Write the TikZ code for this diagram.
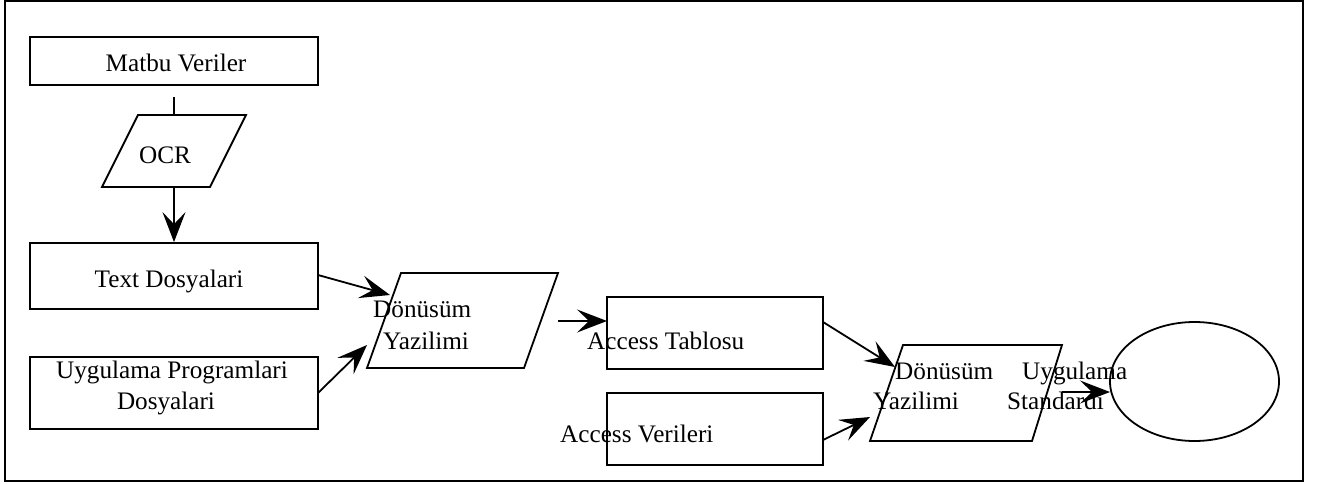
\documentclass[tikz,border=0pt]{standalone}
\usepackage{fontspec}
\setmainfont{Liberation Serif}
\usetikzlibrary{arrows.meta,shapes.geometric}
\begin{document}
\begin{tikzpicture}[x=1pt,y=-1pt,
  box/.style={draw, line width=1.8pt, inner sep=0pt},
  lbl/.style={font=\fontsize{25.2}{30}\selectfont, inner sep=0pt},
  shp/.style={draw, line width=1.8pt, line join=miter},
  plain/.style={line width=1.8pt},
  conn/.style={line width=1.8pt, -{Stealth[length=30pt,width=23pt,inset=12pt]}}]
\useasboundingbox (0,0) rectangle (1319,484);
\draw[line width=2pt] (5,1.5) rectangle (1302.5,481);
% boxes
\node[box, minimum width=288pt, minimum height=48pt] (mv) at (174,61) {};
\node[box, minimum width=288pt, minimum height=66pt] (td) at (174,276) {};
\node[box, minimum width=288pt, minimum height=72pt] (up) at (174,393) {};
\node[box, minimum width=216pt, minimum height=72pt] (at) at (715,333) {};
\node[box, minimum width=216pt, minimum height=72pt] (av) at (715,429) {};
\node[box, ellipse, minimum width=169pt, minimum height=119pt] (el) at (1194.5,381.5) {};
% parallelograms
\draw[shp] (138,115) -- (246,115) -- (210,187) -- (102,187) -- cycle;
\draw[shp] (401,273) -- (558,273) -- (524,368) -- (367,368) -- cycle;
\draw[shp] (903,345) -- (1062,345) -- (1032,441) -- (870,441) -- cycle;
% labels
\node[lbl, anchor=base] (tmv) at (176,72) {Matbu Veriler};
\node[lbl, anchor=base west] (tocr) at (139,163) {OCR};
\node[lbl, anchor=base] (ttd) at (169,287) {Text Dosyalari};
\node[lbl, anchor=base] (tup1) at (172,378) {Uygulama Programlari};
\node[lbl, anchor=base] (tup2) at (166,409) {Dosyalari};
\node[lbl, anchor=base west] (td1a) at (373,317) {Dönüsüm};
\node[lbl, anchor=base west] (td1b) at (383,349) {Yazilimi};
\node[lbl, anchor=base west] (tat) at (587,349) {Access Tablosu};
\node[lbl, anchor=base west] (tav) at (560,442) {Access Verileri};
\node[lbl, anchor=base west] (td2a) at (895,379) {Dönüsüm};
\node[lbl, anchor=base west] (td2b) at (873,409) {Yazilimi};
\node[lbl, anchor=base west] (tus1) at (1022,379) {Uygulama};
\node[lbl, anchor=base west] (tus2) at (1007,409) {Standardi};
% connector end points
\coordinate (mvout) at (174,97);
\coordinate (ocrtop) at (174,115);
\coordinate (ocrbot) at (174,187);
\coordinate (tdout) at (318,275);
\coordinate (d1inA) at (390,295);
\coordinate (upout) at (318,393);
\coordinate (d1inB) at (367,345);
\coordinate (d1out) at (558,321);
\coordinate (atin) at (607,321);
\coordinate (atout) at (823,322);
\coordinate (d2inA) at (895,367);
\coordinate (avout) at (823,440);
\coordinate (d2inB) at (870,417);
\coordinate (d2out) at (1062,392);
\coordinate (elin) at (1110,392);
% connectors
\draw[plain] (mvout) -- (ocrtop);
\draw[conn] (ocrbot) -- (td.north);
\draw[conn] (tdout) -- (d1inA);
\draw[conn] (upout) -- (d1inB);
\draw[conn] (d1out) -- (atin);
\draw[conn] (atout) -- (d2inA);
\draw[conn] (avout) -- (d2inB);
\draw[conn] (d2out) -- (elin);
\end{tikzpicture}
\end{document}
